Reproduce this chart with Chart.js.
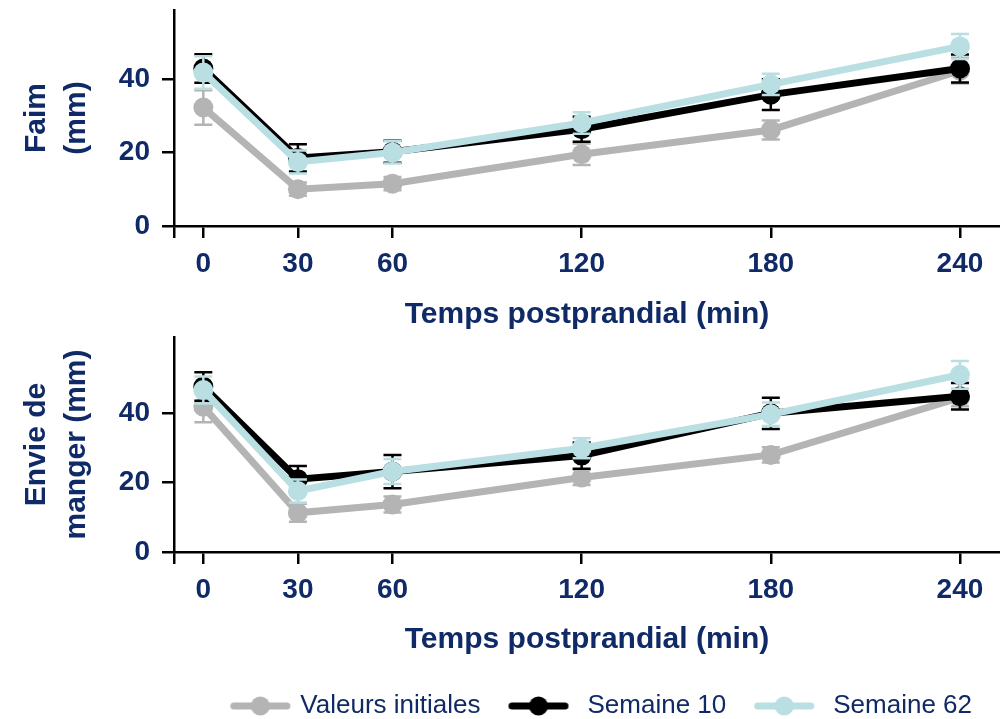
<!DOCTYPE html>
<html>
<head>
<meta charset="utf-8">
<script src="https://cdn.jsdelivr.net/npm/chart.js@4.4.0/dist/chart.umd.min.js"></script>
<style>
html, body { margin: 0; padding: 0; background: #fff; overflow: hidden; }
#page { position: relative; width: 1000px; height: 719px; overflow: hidden; }
#haut { position: absolute; left: 0; top: 0; width: 1000px; height: 333px; }
#bas { position: absolute; left: 0; top: 322px; width: 1000px; height: 407px; }
</style>
</head>
<body>
<div id="page">
  <div id="haut"><canvas id="graphFaim"></canvas></div>
  <div id="bas"><canvas id="graphEnvie"></canvas></div>
</div>
<script>
// donnees (moyenne +/- erreur)
var temps = [0, 30, 60, 120, 180, 240];
var ticksTemps = [0, 30, 60, 120, 180, 240];
var ticksMm = [0, 20, 40];
var nomsSeries = ['Valeurs initiales', 'Semaine 10', 'Semaine 62'];

var faimInitiales = [32.2, 10, 11.5, 19.5, 26.1, 42.2];
var faimInitialesErr = [4.7, 1.8, 1.8, 2.9, 2.6, 3.5];
var faimS10 = [42.8, 18.5, 20.2, 26.3, 35.7, 42.8];
var faimS10Err = [3.9, 3.7, 3, 3.4, 4.2, 3.8];
var faimS62 = [41.7, 17.4, 20, 28, 38.5, 48.8];
var faimS62Err = [4.4, 3.1, 3, 2.9, 2.9, 3.4];

var envieInitiales = [41.9, 11.3, 13.7, 21.5, 28, 44.5];
var envieInitialesErr = [4.5, 2.6, 2.3, 2.2, 2.2, 2.5];
var envieS10 = [47.7, 21, 23.2, 27.8, 40, 44.9];
var envieS10Err = [4.1, 3.8, 4.8, 3.8, 4.5, 3.8];
var envieS62 = [46.7, 17.6, 23.2, 29.9, 39.7, 51.1];
var envieS62Err = [3.9, 3.3, 3.6, 2.9, 3.4, 4];

var couleurs = ['#b4b4b4', '#000000', '#b9dfe3'];
var decalageMarqueur = [9, 0, 0];
var bleuTexte = '#0f2a66';
var police = "'Liberation Sans', Arial, sans-serif";

function marqueurLegende(couleur, dx) {
    var c = document.createElement('canvas');
    c.width = 84;
    c.height = 24;
    var ctx = c.getContext('2d');
    var x0 = 9 + dx;
    ctx.strokeStyle = couleur;
    ctx.lineWidth = 7;
    ctx.lineCap = 'round';
    ctx.beginPath();
    ctx.moveTo(x0 + 3.5, 12);
    ctx.lineTo(x0 + 56.5, 12);
    ctx.stroke();
    ctx.fillStyle = couleur;
    ctx.beginPath();
    ctx.arc(x0 + 30, 12, 9.5, 0, Math.PI * 2);
    ctx.fill();
    return c;
}

// barres d'erreur dessinees sous chaque serie
var barresErreur = {
    id: 'barresErreur',
    beforeDatasetDraw: function (chart, args) {
        var ds = chart.data.datasets[args.index];
        if (!ds.erreurs) return;
        var ctx = chart.ctx, xs = chart.scales.x, ys = chart.scales.y;
        ctx.save();
        ctx.strokeStyle = ds.borderColor;
        ctx.lineWidth = 2.5;
        ds.data.forEach(function (p, i) {
            var x = xs.getPixelForValue(p.x);
            var y1 = ys.getPixelForValue(p.y + ds.erreurs[i]);
            var y2 = ys.getPixelForValue(p.y - ds.erreurs[i]);
            ctx.beginPath();
            ctx.moveTo(x, y1); ctx.lineTo(x, y2);
            ctx.moveTo(x - 9, y1); ctx.lineTo(x + 9, y1);
            ctx.moveTo(x - 9, y2); ctx.lineTo(x + 9, y2);
            ctx.stroke();
        });
        ctx.restore();
    }
};

function points(valeurs) {
    return temps.map(function (t, i) { return { x: t, y: valeurs[i] }; });
}

function creerGraphique(idCanvas, titreY, series, erreurs, yMax, hauteurX, padTitreX, padHaut, avecLegende) {
    var datasets = series.map(function (s, i) {
        return {
            label: nomsSeries[i],
            data: points(s),
            erreurs: erreurs[i],
            borderColor: couleurs[i],
            backgroundColor: couleurs[i],
            borderWidth: 7,
            pointRadius: 10,
            pointBorderWidth: 0,
            pointBackgroundColor: couleurs[i],
            tension: 0,
            clip: false,
            order: 3 - i
        };
    });

    var legende = { display: false };
    if (avecLegende) {
        legende = {
            display: true,
            position: 'bottom',
            align: 'end',
            fullSize: false,
            labels: {
                usePointStyle: true,
                pointStyleWidth: 66,
                padding: 28,
                color: bleuTexte,
                font: { family: police, size: 26 },
                generateLabels: function (chart) {
                    return chart.data.datasets.map(function (ds, i) {
                        return {
                            text: ds.label,
                            fillStyle: ds.borderColor,
                            strokeStyle: ds.borderColor,
                            lineWidth: 0,
                            pointStyle: marqueurLegende(ds.borderColor, decalageMarqueur[i]),
                            fontColor: bleuTexte,
                            hidden: false,
                            datasetIndex: i
                        };
                    });
                }
            }
        };
    }

    return new Chart(document.getElementById(idCanvas), {
        type: 'line',
        data: { datasets: datasets },
        options: {
            responsive: true,
            maintainAspectRatio: false,
            animation: false,
            layout: { autoPadding: false, padding: { top: padHaut, left: 0, right: 0, bottom: 0 } },
            plugins: {
                legend: legende,
                tooltip: { enabled: false }
            },
            scales: {
                x: {
                    type: 'linear',
                    min: -9.3,
                    max: 252.7,
                    afterBuildTicks: function (s) {
                        s.ticks = [-9.3].concat(ticksTemps).map(function (v) { return { value: v }; });
                    },
                    afterFit: function (s) {
                        s.height = hauteurX;
                        s.paddingLeft = 0;
                        s.paddingRight = 0;
                    },
                    ticks: {
                        autoSkip: false,
                        maxRotation: 0,
                        padding: 9,
                        color: bleuTexte,
                        font: { family: police, size: 28, weight: 'bold' },
                        callback: function (v) { return ticksTemps.indexOf(v) >= 0 ? String(v) : ''; }
                    },
                    grid: { drawOnChartArea: false, drawTicks: true, tickLength: 12, color: '#000', lineWidth: 2.5 },
                    border: { display: true, color: '#000', width: 2.5 },
                    title: {
                        display: true,
                        text: 'Temps postprandial (min)',
                        color: bleuTexte,
                        font: { family: police, size: 30, weight: 'bold', lineHeight: 1.2 },
                        padding: { top: 0, bottom: padTitreX }
                    }
                },
                y: {
                    min: 0,
                    max: yMax,
                    afterBuildTicks: function (s) {
                        s.ticks = ticksMm.map(function (v) { return { value: v }; });
                    },
                    afterFit: function (s) {
                        s.width = 174;
                        s.paddingTop = 0;
                        s.paddingBottom = 0;
                    },
                    ticks: {
                        padding: 12,
                        color: bleuTexte,
                        font: { family: police, size: 28, weight: 'bold' }
                    },
                    grid: { drawOnChartArea: false, drawTicks: true, tickLength: 12, color: '#000', lineWidth: 2.5 },
                    border: { display: true, color: '#000', width: 2.5 },
                    title: {
                        display: true,
                        text: titreY,
                        color: bleuTexte,
                        font: { family: police, size: 30, weight: 'bold', lineHeight: 1.33 },
                        padding: { top: 17, bottom: 0 }
                    }
                }
            }
        },
        plugins: [barresErreur]
    });
}

creerGraphique('graphFaim', ['Faim', '(mm)'],
    [faimInitiales, faimS10, faimS62],
    [faimInitialesErr, faimS10Err, faimS62Err],
    58.7, 107, 0, 10, false);

creerGraphique('graphEnvie', ['Envie de', 'manger (mm)'],
    [envieInitiales, envieS10, envieS62],
    [envieInitialesErr, envieS10Err, envieS62Err],
    62, 113, 7, 15, true);
</script>
</body>
</html>
